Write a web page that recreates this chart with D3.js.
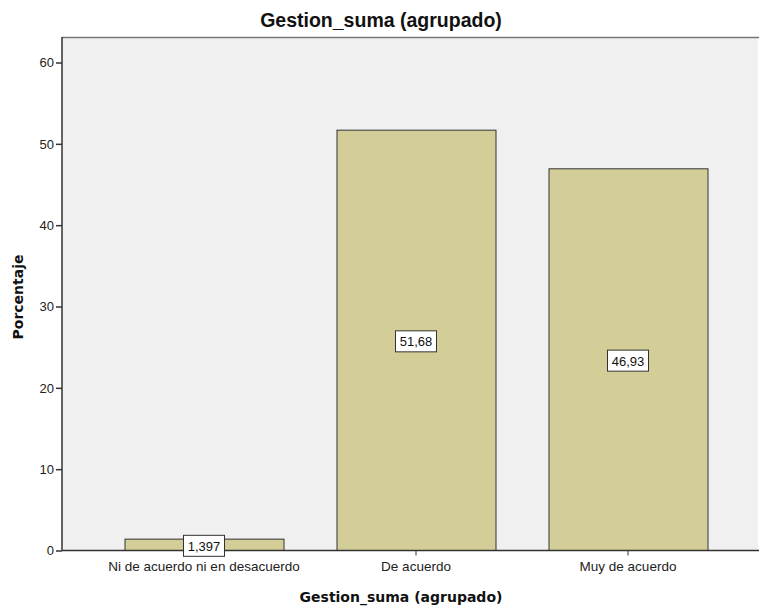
<!DOCTYPE html>
<html><head><meta charset="utf-8">
<script src="https://cdn.jsdelivr.net/npm/d3@7"></script>
<style>body{margin:0;background:#fff}svg{display:block}</style>
</head><body>
<script>
const categories = ["Ni de acuerdo ni en desacuerdo", "De acuerdo", "Muy de acuerdo"];
const values = [1.397, 51.68, 46.93];
const valueLabels = ["1,397", "51,68", "46,93"];
const yTicks = [0, 10, 20, 30, 40, 50, 60];

const W = 759, H = 607;
const plot = {left: 62, right: 758, top: 37, bottom: 550.5};
const svg = d3.select("body").append("svg").attr("width", W).attr("height", H);

const y = d3.scaleLinear().domain([0, 60]).range([plot.bottom, 62.5]);
const x = d3.scaleBand().domain(categories).range([98, 734]).paddingInner(0.25).paddingOuter(0.125);

svg.append("rect").attr("x", plot.left).attr("y", plot.top)
  .attr("width", plot.right - plot.left).attr("height", plot.bottom - plot.top)
  .attr("fill", "#f0f0f0");
svg.append("line").attr("x1", plot.left).attr("x2", plot.right + 1).attr("y1", plot.top + 0.5).attr("y2", plot.top + 0.5)
  .attr("stroke", "#777").attr("stroke-width", 1.5);

svg.selectAll("rect.bar").data(values).join("rect").attr("class", "bar")
  .attr("x", (d, i) => x(categories[i]) + 0.5)
  .attr("y", d => y(d))
  .attr("width", x.bandwidth())
  .attr("height", d => plot.bottom - y(d))
  .attr("fill", "#d3ce97").attr("stroke", "#333").attr("stroke-width", 1);

const FONT = "Liberation Sans, Arial, sans-serif";

// axes
const yAxis = svg.append("g").attr("transform", `translate(${plot.left},0)`)
  .call(d3.axisLeft(y).tickValues(yTicks).tickSize(6).tickPadding(2).tickFormat(d3.format("d")));
yAxis.select(".domain").attr("stroke", "#333").attr("stroke-width", 1.5).attr("d", `M0,${plot.top}V${plot.bottom}`);
yAxis.selectAll(".tick line").attr("stroke", "#333").attr("stroke-width", 1.5);
yAxis.selectAll("text").attr("font-family", FONT).attr("font-size", 13).attr("fill", "#222");

const xAxis = svg.append("g").attr("transform", `translate(0,${plot.bottom})`)
  .call(d3.axisBottom(x).tickSize(5).tickPadding(6));
xAxis.select(".domain").attr("stroke", "#333").attr("stroke-width", 1.5).attr("d", `M${plot.left},0H${plot.right + 1}`);
xAxis.selectAll(".tick line").attr("stroke", "#333");
xAxis.selectAll("text").attr("font-family", FONT).attr("font-size", 13.5).attr("fill", "#222");

// value labels
const lab = svg.selectAll("g.lab").data(values).join("g").attr("class", "lab")
  .attr("transform", (d, i) => `translate(${x(categories[i]) + x.bandwidth() / 2},${(y(d) + y(0)) / 2 + 1.5})`);
lab.append("rect").attr("x", -20.5).attr("y", -11).attr("width", 41).attr("height", 21)
  .attr("fill", "#fff").attr("stroke", "#333").attr("stroke-width", 1);
lab.append("text").text((d, i) => valueLabels[i]).attr("text-anchor", "middle").attr("dy", "0.35em")
  .attr("font-family", FONT).attr("font-size", 13).attr("fill", "#111");

// titles
svg.append("text").text("Gestion_suma (agrupado)").attr("x", 381).attr("y", 27)
  .attr("text-anchor", "middle").attr("font-family", FONT)
  .attr("font-weight", "bold").attr("font-size", 19.5).attr("fill", "#111");
svg.append("text").text("Gestion_suma (agrupado)").attr("x", 401).attr("y", 602)
  .attr("text-anchor", "middle").attr("font-family", "DejaVu Sans, sans-serif")
  .attr("font-weight", "bold").attr("font-size", 14).attr("fill", "#111");
svg.append("text").text("Porcentaje").attr("transform", "translate(23,297) rotate(-90)")
  .attr("text-anchor", "middle").attr("font-family", "DejaVu Sans, sans-serif")
  .attr("font-weight", "bold").attr("font-size", 14).attr("fill", "#111");
</script>
</body></html>
